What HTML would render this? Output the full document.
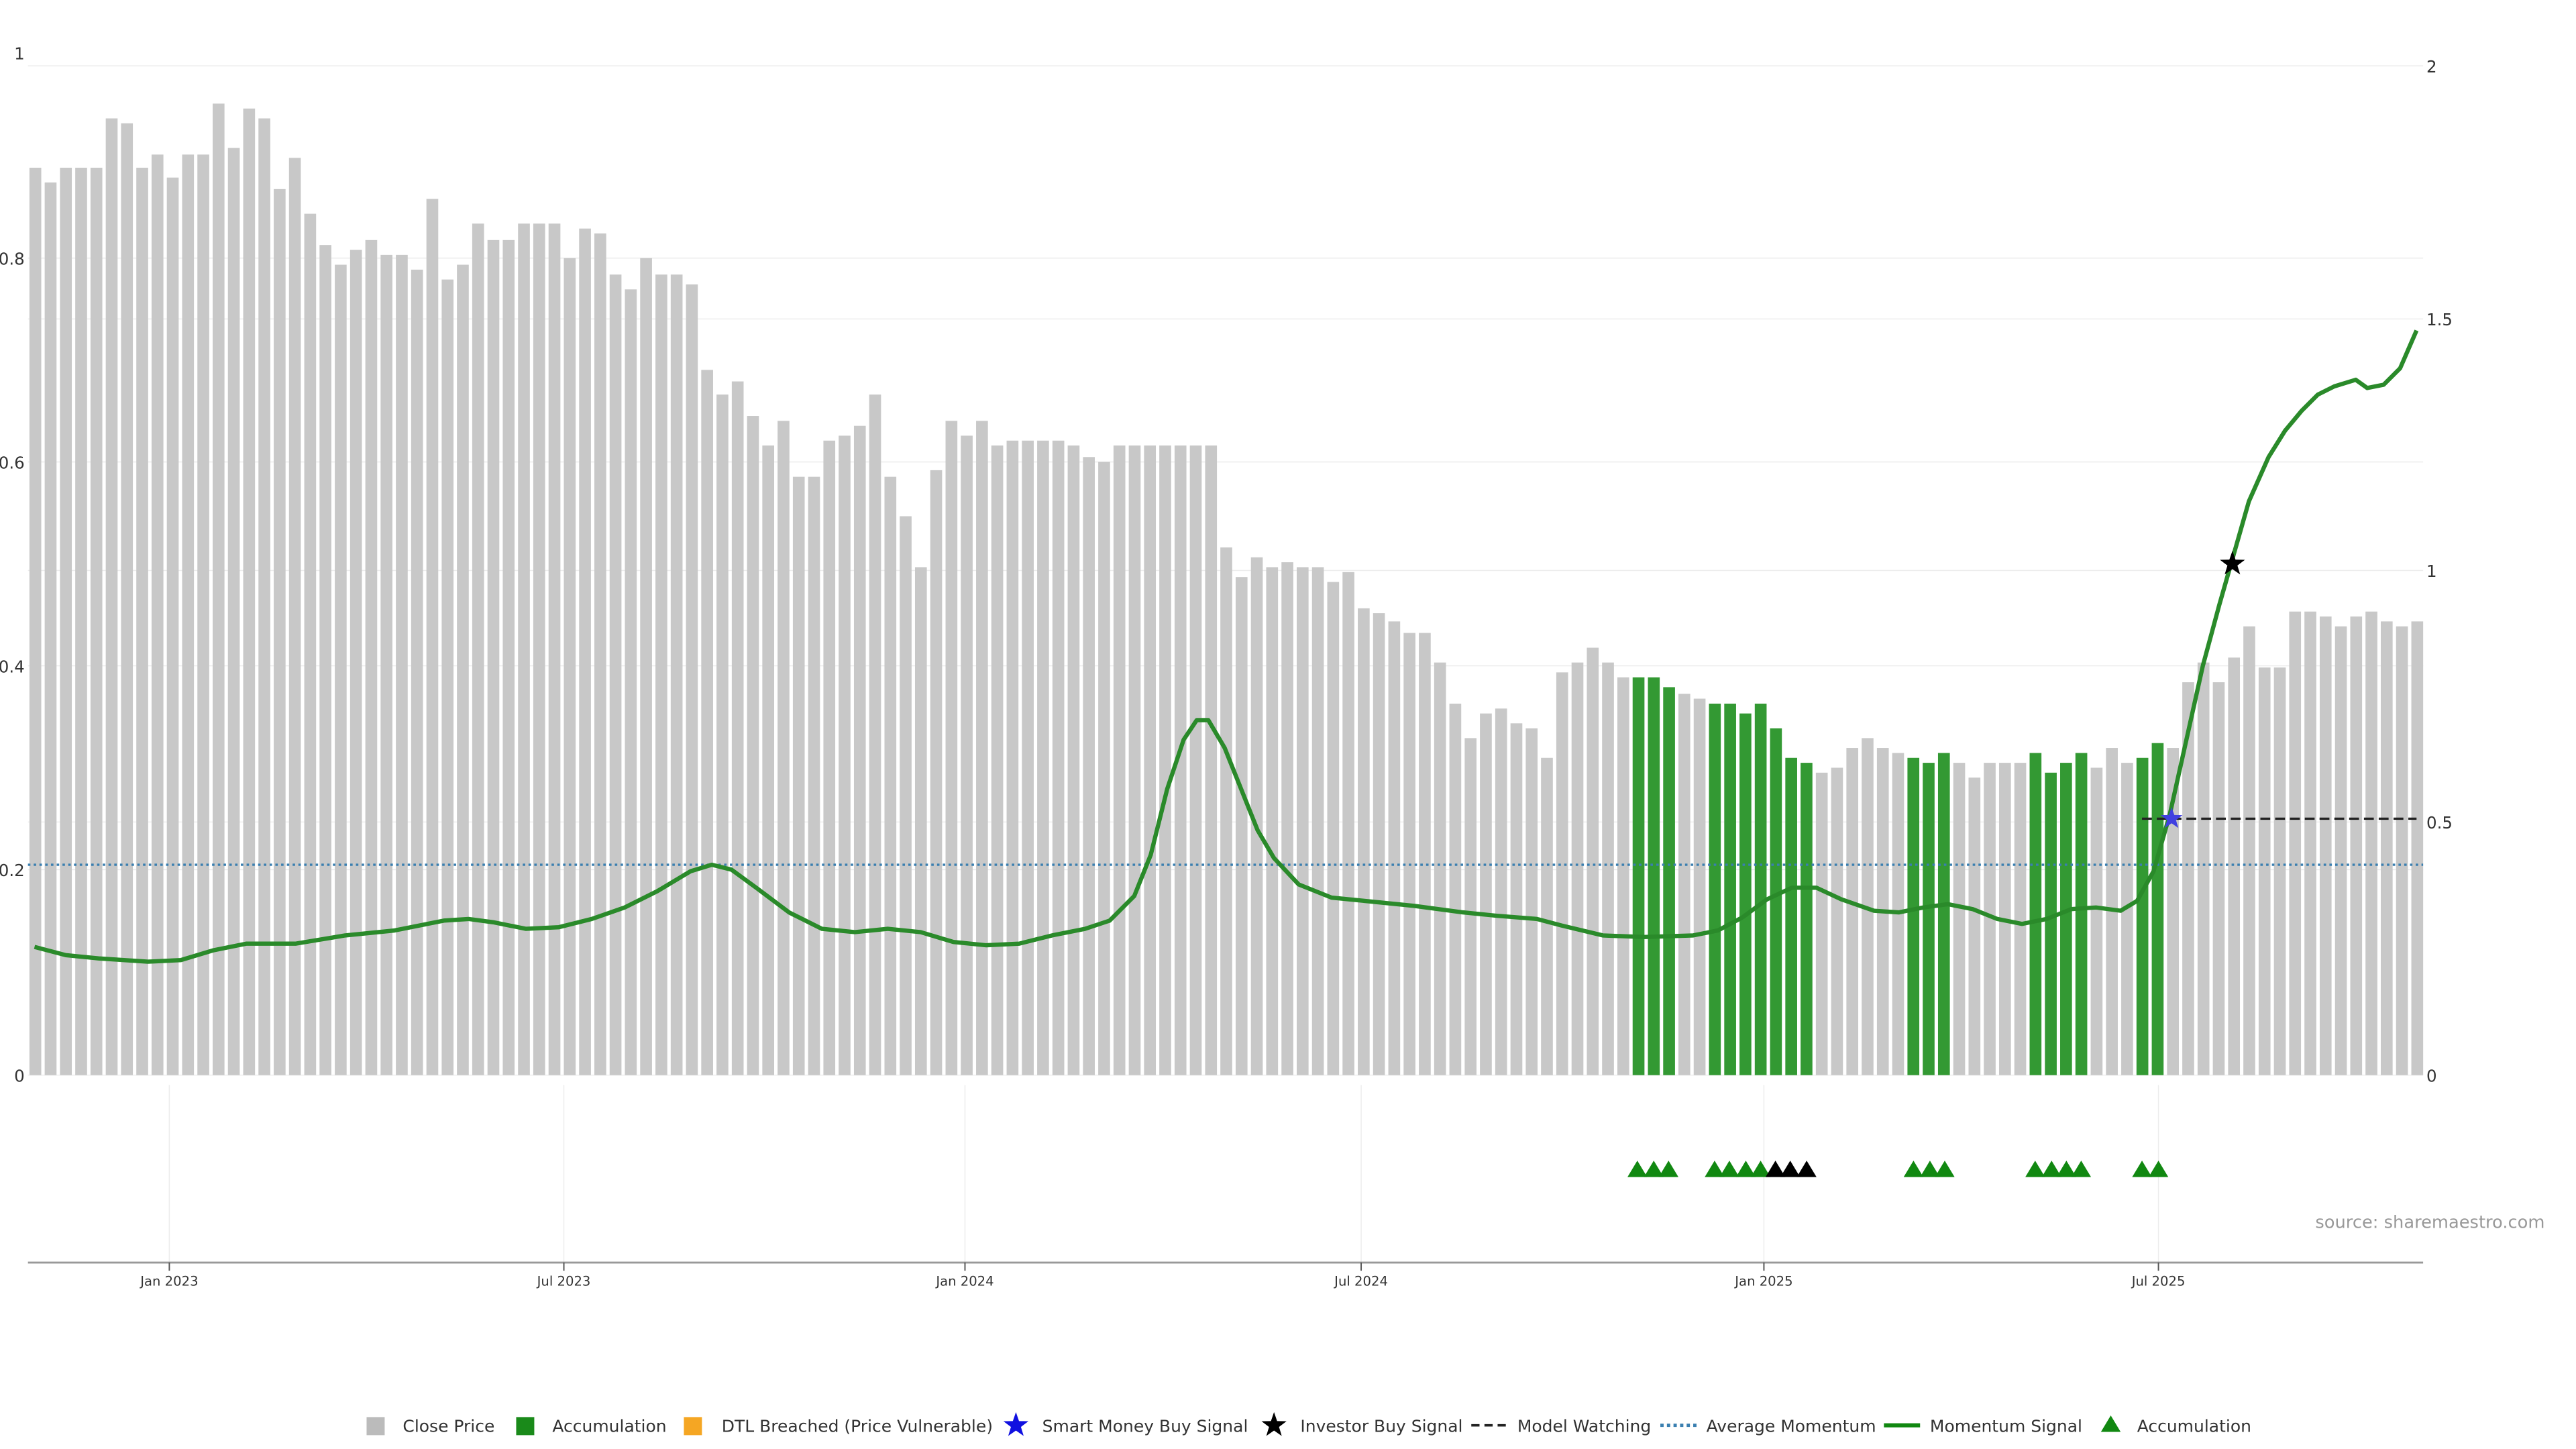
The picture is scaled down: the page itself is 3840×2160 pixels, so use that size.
<!DOCTYPE html>
<html><head><meta charset="utf-8"><style>
html,body{margin:0;padding:0;background:#fff;}
svg{display:block;font-family:"DejaVu Sans","Liberation Sans",sans-serif;}
</style></head><body>
<svg id="s" width="3840" height="2160" viewBox="0 0 1567 881.4" xmlns="http://www.w3.org/2000/svg">
<g stroke="#ececec" stroke-width="0.6">
<line x1="17" x2="1474" y1="40" y2="40"/><line x1="17" x2="1474" y1="157" y2="157"/>
<line x1="17" x2="1474" y1="194" y2="194"/><line x1="17" x2="1474" y1="281" y2="281"/>
<line x1="17" x2="1474" y1="347" y2="347"/><line x1="17" x2="1474" y1="405" y2="405"/>
<line x1="17" x2="1474" y1="500" y2="500"/><line x1="17" x2="1474" y1="529" y2="529"/>
<line x1="17" x2="1474" y1="654" y2="654"/>
<line x1="103" x2="103" y1="660" y2="768"/><line x1="343" x2="343" y1="660" y2="768"/>
<line x1="587" x2="587" y1="660" y2="768"/><line x1="828" x2="828" y1="660" y2="768"/>
<line x1="1073" x2="1073" y1="660" y2="768"/><line x1="1313" x2="1313" y1="660" y2="768"/>
</g>
<g id="bars"></g>
<g font-size="10" fill="#333" text-anchor="end">
<text x="15" y="36">1</text><text x="15" y="161">0.8</text><text x="15" y="285">0.6</text>
<text x="15" y="409">0.4</text><text x="15" y="533">0.2</text><text x="15" y="658">0</text>
</g>
<g font-size="10" fill="#333">
<text x="1476" y="44">2</text><text x="1476" y="198">1.5</text><text x="1476" y="351">1</text>
<text x="1476" y="504">0.5</text><text x="1476" y="658">0</text>
</g>
<line x1="17" x2="1474" y1="526" y2="526" stroke="#3a7fb0" stroke-width="1.4" stroke-dasharray="1.5,2"/>
<line x1="1303" x2="1470" y1="498" y2="498" stroke="#222" stroke-width="1.4" stroke-dasharray="6,3"/>
<path id="mom" fill="none" stroke="#2a8a2a" stroke-width="2.6" stroke-linejoin="round"/>
<g id="tri"></g>
<polygon id="bstar" fill="#4040e0"/>
<polygon id="kstar" fill="#000"/>
<line x1="17" x2="1474" y1="768" y2="768" stroke="#999" stroke-width="1.2"/>
<g stroke="#555" stroke-width="0.8">
<line x1="103" x2="103" y1="768" y2="773"/><line x1="343" x2="343" y1="768" y2="773"/>
<line x1="587" x2="587" y1="768" y2="773"/><line x1="828" x2="828" y1="768" y2="773"/>
<line x1="1073" x2="1073" y1="768" y2="773"/><line x1="1313" x2="1313" y1="768" y2="773"/>
</g>
<g font-size="8" fill="#333" text-anchor="middle">
<text x="103" y="782">Jan 2023</text><text x="343" y="782">Jul 2023</text><text x="587" y="782">Jan 2024</text>
<text x="828" y="782">Jul 2024</text><text x="1073" y="782">Jan 2025</text><text x="1313" y="782">Jul 2025</text>
</g>
<text x="1548" y="747" font-size="10.5" fill="#999" text-anchor="end">source: sharemaestro.com</text>
<g font-size="10.2" fill="#333">
<rect x="223" y="862" width="11" height="11" fill="#bbb"/><text x="245" y="871">Close Price</text>
<rect x="314" y="862" width="11" height="11" fill="#1a8a1a"/><text x="336" y="871">Accumulation</text>
<rect x="416" y="862" width="11" height="11" fill="#f5a623"/><text x="439" y="871">DTL Breached (Price Vulnerable)</text>
<polygon id="ls1" fill="#1010e0"/><text x="634" y="871">Smart Money Buy Signal</text>
<polygon id="ls2" fill="#000"/><text x="791" y="871">Investor Buy Signal</text>
<line x1="895" x2="917" y1="867" y2="867" stroke="#222" stroke-width="1.5" stroke-dasharray="5,3"/><text x="923" y="871">Model Watching</text>
<line x1="1010" x2="1032" y1="867" y2="867" stroke="#3a7fb0" stroke-width="2" stroke-dasharray="2,2"/><text x="1038" y="871">Average Momentum</text>
<line x1="1146" x2="1168" y1="867" y2="867" stroke="#118811" stroke-width="2.5"/><text x="1174" y="871">Momentum Signal</text>
<polygon points="1284,861 1290,871 1278,871" fill="#118811"/><text x="1300" y="871">Accumulation</text>
</g>
</svg>
<script>
var tops=[102,111,102,102,102,72,75,102,94,108,94,94,63,90,66,72,115,96,130,149,161,152,146,155,155,164,121,170,161,136,146,146,136,136,136,157,139,142,167,176,157,167,167,173,225,240,232,253,271,256,290,290,268,265,259,240,290,314,345,286,256,265,256,271,268,268,268,268,271,278,281,271,271,271,271,271,271,271,333,351,339,345,342,345,345,354,348,370,373,378,385,385,403,428,449,434,431,440,443,461,409,403,394,403,412,412,412,418,422,425,428,428,434,428,443,461,464,470,467,455,449,455,458,461,464,458,464,473,464,464,464,458,470,464,458,467,455,464,461,452,455,415,403,415,400,381,406,406,372,372,375,381,375,372,378,381,378];
var green={106:1,107:1,108:1,111:1,112:1,113:1,114:1,115:1,116:1,117:1,124:1,125:1,126:1,132:1,133:1,134:1,135:1,139:1,140:1};
var g=document.getElementById("bars"),h="";
for(var i=0;i<tops.length;i++){var x=21.5+i*9.288;h+='<rect x="'+(x-3.6).toFixed(2)+'" y="'+tops[i]+'" width="7.2" height="'+(654-tops[i])+'" fill="'+(green[i+1]?"#339933":"#c8c8c8")+'"/>';}
g.innerHTML=h;
var p=[[21,576],[40,581],[60,583],[90,585],[110,584],[130,578],[150,574],[180,574],[210,569],[240,566],[270,560],[285,559],[300,561],[320,565],[340,564],[360,559],[380,552],[400,542],[420,530],[433,526],[445,529],[460,540],[480,555],[500,565],[520,567],[540,565],[560,567],[580,573],[600,575],[620,574],[640,569],[660,565],[675,560],[690,545],[700,520],[710,480],[720,450],[728,438],[735,438],[745,455],[755,480],[765,505],[775,522],[790,538],[810,546],[830,548],[860,551],[890,555],[910,557],[935,559],[950,563],[975,569],[1000,570],[1030,569],[1045,566],[1060,558],[1075,547],[1090,540],[1105,540],[1120,547],[1140,554],[1155,555],[1170,552],[1185,550],[1200,553],[1215,559],[1230,562],[1245,559],[1260,553],[1275,552],[1290,554],[1300,548],[1310,530],[1320,495],[1330,450],[1340,405],[1350,368],[1358,340],[1368,305],[1380,278],[1390,262],[1400,250],[1410,240],[1420,235],[1433,231],[1440,236],[1450,234],[1460,224],[1470,201]];
document.getElementById("mom").setAttribute("d","M"+p.map(function(a){return a[0]+","+a[1]}).join(" L"));
var tg="",tri=[[996,"#118811"],[1006,"#118811"],[1015,"#118811"],[1043,"#118811"],[1052,"#118811"],[1062,"#118811"],[1071,"#118811"],[1080,"#000"],[1089,"#000"],[1099,"#000"],[1164,"#118811"],[1174,"#118811"],[1183,"#118811"],[1238,"#118811"],[1248,"#118811"],[1257,"#118811"],[1266,"#118811"],[1303,"#118811"],[1313,"#118811"]];
tri.forEach(function(t){tg+='<polygon points="'+t[0]+',706 '+(t[0]+6)+',716 '+(t[0]-6)+',716" fill="'+t[1]+'"/>';});
document.getElementById("tri").innerHTML=tg;
function star(id,cx,cy,r){var s=[];for(var k=0;k<10;k++){var rr=k%2?r*0.4:r,a=-Math.PI/2+k*Math.PI/5;s.push((cx+rr*Math.cos(a)).toFixed(2)+","+(cy+rr*Math.sin(a)).toFixed(2));}document.getElementById(id).setAttribute("points",s.join(" "));}
star("bstar",1321,498,7);star("kstar",1358,343,8);star("ls1",618,867,8);star("ls2",775,867,8);
</script>
</body></html>
